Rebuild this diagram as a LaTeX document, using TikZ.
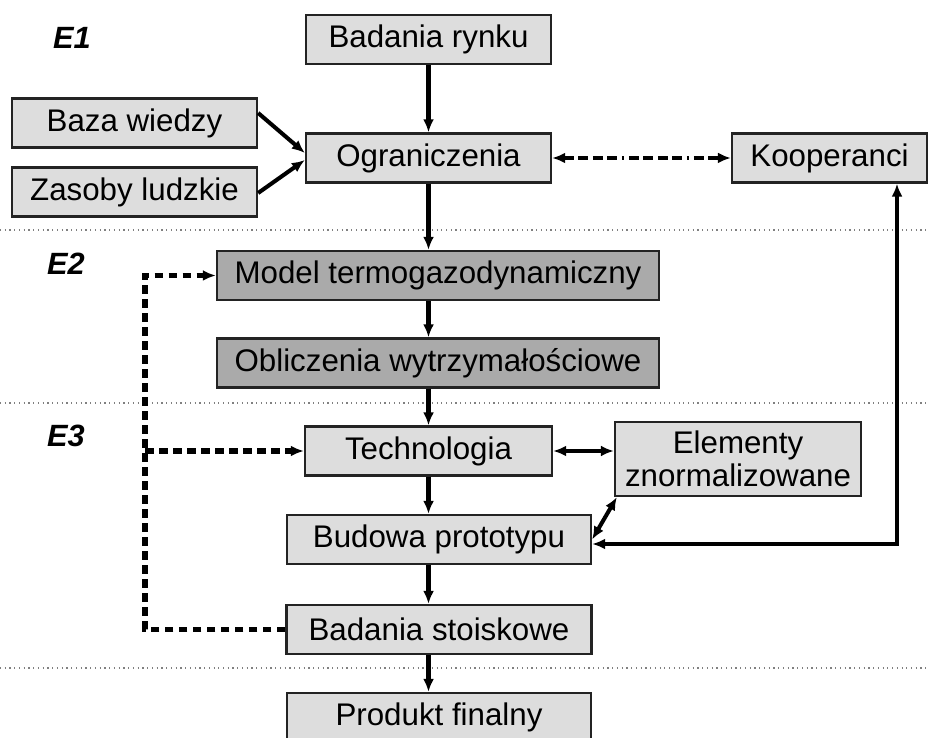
\documentclass[tikz,border=0pt]{standalone}
\usepackage{fontspec}
\setmainfont{Liberation Sans}
\usepackage{tikz}
\usetikzlibrary{arrows.meta}
\definecolor{lightbox}{RGB}{221,221,221}
\definecolor{darkbox}{RGB}{170,170,170}
\definecolor{edgegray}{RGB}{35,35,35}
\tikzstyle{box}=[draw=edgegray, line width=1.3pt, fill=lightbox, inner sep=0pt, minimum height=0.98cm, font=\fontsize{17.8}{20.5}\selectfont]
\tikzstyle{darkbox}=[box, fill=darkbox]
\tikzstyle{stage}=[font=\fontsize{17.5}{20}\selectfont\bfseries\itshape]
\tikzstyle{flow}=[line width=2.3pt, -{Latex[length=0.26cm,width=0.22cm]}]
\tikzstyle{both}=[line width=2.3pt, {Latex[length=0.26cm,width=0.22cm]}-{Latex[length=0.26cm,width=0.22cm]}]
\tikzstyle{feedback}=[line width=2.9pt, dash pattern=on 0.17cm off 0.11cm, -{Latex[length=0.26cm,width=0.22cm]}]
\tikzstyle{coop}=[line width=2.3pt, dash pattern=on 0.2cm off 0.09cm on 0.2cm off 0.09cm on 0.2cm off 0.09cm on 0.2cm off 0.09cm on 0.05cm off 0.09cm, {Latex[length=0.26cm,width=0.22cm]}-{Latex[length=0.26cm,width=0.22cm]}]
\tikzstyle{separator}=[gray, line width=0.7pt, dotted]

\begin{document}
\begin{tikzpicture}
            \useasboundingbox (0,0) rectangle (18.56,-14.76);
            \node [box, minimum width=4.9cm] (BR) at (8.57,-0.79) {Badania rynku};
            \node [box, minimum width=4.9cm, below of=BR, node distance=2.37cm] (OG) {Ograniczenia};
            \node [box, minimum width=3.9cm, right of=OG, node distance=8.02cm] (KO) {Kooperanci};
            \node [box, minimum width=4.9cm, left of=OG, node distance=5.88cm, yshift=0.70cm] (BW) {Baza wiedzy};
            \node [box, minimum width=4.9cm, left of=OG, node distance=5.88cm, yshift=-0.68cm] (ZL) {Zasoby ludzkie};
            \node [darkbox, minimum width=8.84cm, below of=OG, node distance=2.35cm, xshift=0.19cm] (MT) {Model termogazodynamiczny};
            \node [darkbox, minimum width=8.84cm, below of=MT, node distance=1.75cm] (OW) {Obliczenia wytrzymałościowe};
            \node [box, minimum width=4.94cm, below of=OW, node distance=1.76cm, xshift=-0.19cm] (TE) {Technologia};
            \node [box, minimum width=4.92cm, minimum height=1.48cm, align=center, right of=TE, node distance=6.19cm, yshift=-0.16cm] (EZ) {Elementy\\[-2pt]znormalizowane};
            \node [box, minimum width=6.08cm, below of=TE, node distance=1.77cm, xshift=0.21cm] (BP) {Budowa prototypu};
            \node [box, minimum width=6.1cm, below of=BP, node distance=1.80cm] (BS) {Badania stoiskowe};
            \node [box, minimum width=6.08cm, below of=BS, node distance=1.76cm] (PF) {Produkt finalny};
            \node [stage] (E1) at (1.44,-0.76) {E1};
            \node [stage] (E2) at (1.32,-5.28) {E2};
            \node [stage] (E3) at (1.32,-8.72) {E3};
            \coordinate (fbx) at (2.9,0);
            \coordinate (kx) at (17.94,0);
            \draw[separator] (0,-4.6) -- (18.56,-4.6);
            \draw[separator] (0,-8.06) -- (18.56,-8.06);
            \draw[separator] (0,-13.36) -- (18.56,-13.36);
            \draw[flow] (BR) -- (OG);
            \draw[flow] ([yshift=0.2cm]BW.east) -- ([yshift=0.1cm]OG.west);
            \draw[flow] ([yshift=-0.02cm]ZL.east) -- ([yshift=-0.04cm]OG.west);
            \draw[coop] (OG) -- (KO);
            \draw[flow] (OG.south) -- (OG.south |- MT.north);
            \draw[flow] (MT.south -| OG.south) -- (OW.north -| OG.south);
            \draw[flow] (OW.south -| TE.north) -- (TE.north);
            \draw[flow] (TE.south) -- (TE.south |- BP.north);
            \draw[flow] (BP.south -| TE.south) -- (BS.north -| TE.south);
            \draw[flow] (BS.south -| TE.south) -- (PF.north -| TE.south);
            \draw[both] (TE.east) -- (TE.east -| EZ.west);
            \draw[both] (BP.east) -- ([xshift=0.06cm]EZ.south west);
            \draw[both] ([yshift=-0.09cm]BP.east) -- ([yshift=-0.09cm]BP.east -| kx) -- (kx |- KO.south);
            \draw[feedback] (BS.west) -| (fbx |- MT.west) -- (MT.west);
            \draw[feedback] (fbx |- TE.west) -- (TE.west);
        \end{tikzpicture}
\end{document}
